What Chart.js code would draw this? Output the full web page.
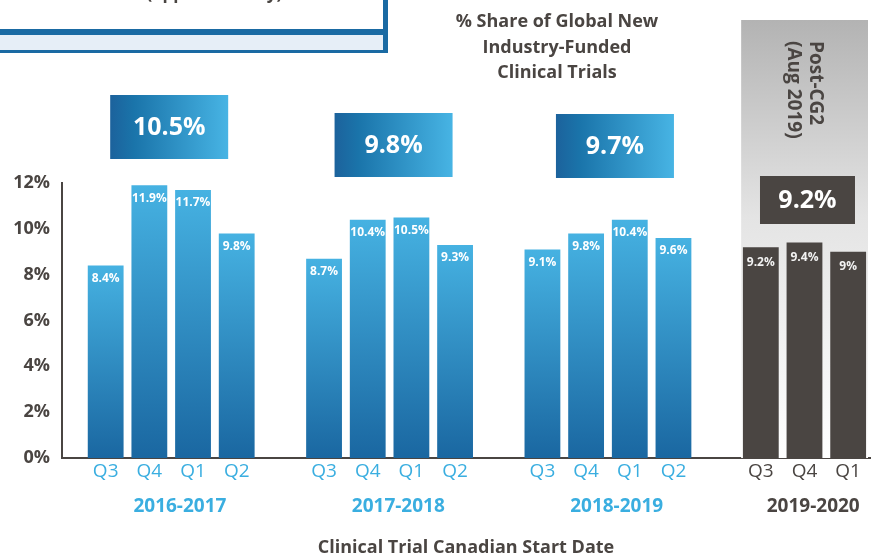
<!DOCTYPE html>
<html>
<head>
<meta charset="utf-8">
<script src="https://cdn.jsdelivr.net/npm/chart.js@4/dist/chart.umd.min.js"></script>
<style>
  html, body { margin: 0; padding: 0; background: #ffffff; }
  canvas { display: block; }
</style>
</head>
<body>
<canvas id="c" width="874" height="559"></canvas>
<script>
// ---- data ----
const yearLabels = ['2016-2017', '2017-2018', '2018-2019', '2019-2020'];
const quarterLabels = [
  ['Q3', 'Q4', 'Q1', 'Q2'],
  ['Q3', 'Q4', 'Q1', 'Q2'],
  ['Q3', 'Q4', 'Q1', 'Q2'],
  ['Q3', 'Q4', 'Q1']
];
const shareValues = [
  [8.4, 11.9, 11.7, 9.8],
  [8.7, 10.4, 10.5, 9.3],
  [9.1, 9.8, 10.4, 9.6],
  [9.2, 9.4, 9.0]
];
const groupAverages = [10.5, 9.8, 9.7, 9.2];
const yTickValues = [0, 2, 4, 6, 8, 10, 12];
const titleLines = ['% Share of Global New', 'Industry-Funded', 'Clinical Trials'];
const xAxisTitle = 'Clinical Trial Canadian Start Date';
const panelLines = ['Post-CG2', '(Aug 2019)'];
const headerText = 'Canadian share (approximately)';

// ---- derived structure (slot = group * 5 + quarter, one empty slot between groups) ----
const SLOTS_PER_GROUP = 5;
const points = [];
const tickSlots = [];
const tickTexts = [];
const tickGroups = [];
shareValues.forEach((vals, g) => {
  vals.forEach((v, q) => {
    const slot = g * SLOTS_PER_GROUP + q;
    points.push({ x: slot, y: v, g: g });
    tickSlots.push(slot);
    tickTexts.push(quarterLabels[g][q]);
    tickGroups.push(g);
  });
});
const groupCenters = shareValues.map((vals, g) => g * SLOTS_PER_GROUP + (vals.length - 1) / 2);

const DARK = '#4a4542';
const BLUE_TEXT = '#3aaee0';
const FONT = '"Open Sans", Lato, sans-serif';

function fmt(v) { return (Number.isInteger(v) ? String(v) : v.toFixed(1)) + '%'; }

const decorPlugin = {
  id: 'decor',
  beforeDraw(chart) {
    const ctx = chart.ctx;
    ctx.save();
    ctx.fillStyle = '#ffffff';
    ctx.fillRect(0, 0, chart.width, chart.height);
    // cut-off header box at top-left
    ctx.fillStyle = '#1a6aa3';
    ctx.fillRect(-5, -5, 393, 58);
    ctx.fillStyle = '#ffffff';
    ctx.fillRect(-5, -5, 388, 34);
    ctx.fillStyle = '#e6eef7';
    ctx.fillRect(-5, 35, 388, 15);
    ctx.fillStyle = DARK;
    ctx.font = 'bold 17px ' + FONT;
    ctx.textAlign = 'left';
    ctx.textBaseline = 'alphabetic';
    ctx.fillText(headerText, 10, -1);
    ctx.restore();
  },
  beforeDatasetsDraw(chart) {
    const ctx = chart.ctx;
    const xs = chart.scales.x, ys = chart.scales.y;
    const left = xs.getPixelForValue(3 * SLOTS_PER_GROUP - 0.45);
    const right = xs.getPixelForValue(xs.max) - 2;
    const top = 20;
    const bottom = ys.getPixelForValue(0);
    ctx.save();
    const g = ctx.createLinearGradient(0, top, 0, bottom);
    g.addColorStop(0, '#b3b3b3');
    g.addColorStop(0.45, '#e4e4e4');
    g.addColorStop(1, '#ffffff');
    ctx.fillStyle = g;
    ctx.fillRect(left, top, right - left, bottom - top);
    // rotated panel text
    const cx = (left + right) / 2;
    ctx.translate(cx, 41);
    ctx.rotate(Math.PI / 2);
    ctx.fillStyle = DARK;
    ctx.font = 'bold 19px ' + FONT;
    ctx.textAlign = 'left';
    ctx.textBaseline = 'middle';
    ctx.fillText(panelLines[0], 0, -11);
    ctx.fillText(panelLines[1], 0, 11);
    ctx.restore();
  },
  afterDatasetsDraw(chart) {
    const ctx = chart.ctx;
    const meta = chart.getDatasetMeta(0);
    ctx.save();
    ctx.font = 'bold 12px ' + FONT;
    ctx.textAlign = 'center';
    ctx.textBaseline = 'middle';
    meta.data.forEach((el, i) => {
      const p = points[i];
      ctx.fillStyle = p.g === 3 ? '#f2f2f2' : '#ffffff';
      ctx.fillText(fmt(p.y), el.x, el.y + (p.g === 3 ? 15 : 13));
    });
    // summary boxes
    const xs = chart.scales.x;
    const boxTops = [95, 113, 114, 176];
    const boxW = [118, 118, 118, 95];
    const boxH = [64, 64, 64, 48];
    const shift = [-2, 4, 7, 3];
    groupAverages.forEach((avg, g) => {
      const cx = xs.getPixelForValue(groupCenters[g]) + shift[g];
      const x0 = cx - boxW[g] / 2;
      const y0 = boxTops[g];
      if (g === 3) {
        ctx.fillStyle = DARK;
      } else {
        const gr = ctx.createLinearGradient(x0, 0, x0 + boxW[g], 0);
        gr.addColorStop(0, '#1c629c');
        gr.addColorStop(0.2, '#1a74aa');
        gr.addColorStop(1, '#47b4e4');
        ctx.fillStyle = gr;
      }
      ctx.fillRect(x0, y0, boxW[g], boxH[g]);
      ctx.fillStyle = '#ffffff';
      ctx.font = 'bold 25px ' + FONT;
      ctx.fillText(fmt(avg), cx, y0 + boxH[g] / 2 + 1);
    });
    ctx.restore();
  },
  afterDraw(chart) {
    const ctx = chart.ctx;
    ctx.save();
    ctx.fillStyle = DARK;
    ctx.font = 'bold 18px ' + FONT;
    ctx.textAlign = 'center';
    ctx.textBaseline = 'middle';
    titleLines.forEach((t, i) => ctx.fillText(t, 557, 22 + i * 25.5));
    ctx.restore();
  }
};

function noSidePadding(s) { s.paddingLeft = 0; s.paddingRight = 0; }

new Chart(document.getElementById('c'), {
  type: 'bar',
  data: {
    datasets: [{
      data: points,
      barPercentage: 0.82,
      categoryPercentage: 1,
      borderWidth: 0,
      backgroundColor: (c) => {
        const chart = c.chart;
        const raw = c.raw;
        if (!chart.chartArea || !raw) return '#2a8cc8';
        if (raw.g === 3) return DARK;
        const ys = chart.scales.y;
        const top = ys.getPixelForValue(raw.y);
        const bottom = ys.getPixelForValue(0);
        const gr = chart.ctx.createLinearGradient(0, top, 0, bottom);
        gr.addColorStop(0, '#46b2e2');
        gr.addColorStop(1, '#1a67a1');
        return gr;
      }
    }]
  },
  options: {
    responsive: false,
    animation: false,
    devicePixelRatio: 1,
    layout: { padding: { top: 183, right: 4, left: 0, bottom: 0 } },
    plugins: { legend: { display: false }, tooltip: { enabled: false }, title: { display: false } },
    scales: {
      y: {
        min: 0, max: 12,
        afterBuildTicks: (s) => { s.ticks = yTickValues.map(v => ({ value: v })); },
        afterFit: (s) => { s.width = 62; },
        grid: { display: false, drawTicks: false },
        border: { display: true, color: DARK, width: 2 },
        ticks: {
          callback: (v) => v + '%',
          color: DARK,
          padding: 12,
          font: { family: FONT, size: 18, weight: 'bold' }
        }
      },
      x: {
        type: 'linear',
        position: 'bottom',
        offset: false,
        min: -1, max: 17.5,
        afterBuildTicks: (s) => { s.ticks = tickSlots.map(v => ({ value: v })); },
        afterFit: (s) => { s.height = 28; noSidePadding(s); },
        grid: { display: false, drawTicks: false, offset: false },
        border: { display: true, color: DARK, width: 2 },
        ticks: {
          autoSkip: false, maxRotation: 0,
          padding: 2,
          callback: (v, i) => tickTexts[i],
          color: (c) => tickGroups[c.index] === 3 ? DARK : BLUE_TEXT,
          font: { family: FONT, size: 19 }
        }
      },
      x2: {
        type: 'linear',
        position: 'bottom',
        offset: false,
        min: -1, max: 17.5,
        afterBuildTicks: (s) => { s.ticks = groupCenters.map(v => ({ value: v + 0.2 })); },
        afterFit: (s) => { s.height = 73; noSidePadding(s); },
        grid: { display: false, drawTicks: false, offset: false },
        border: { display: false },
        ticks: {
          autoSkip: false, maxRotation: 0,
          padding: 9,
          callback: (v, i) => yearLabels[i],
          color: (c) => c.index === 3 ? DARK : BLUE_TEXT,
          font: { family: FONT, size: 19, weight: 'bold' }
        },
        title: {
          display: true,
          text: xAxisTitle,
          color: DARK,
          font: { family: FONT, size: 18, weight: 'bold' },
          padding: { top: 8, bottom: 0 }
        }
      }
    }
  },
  plugins: [decorPlugin]
});
</script>
</body>
</html>
